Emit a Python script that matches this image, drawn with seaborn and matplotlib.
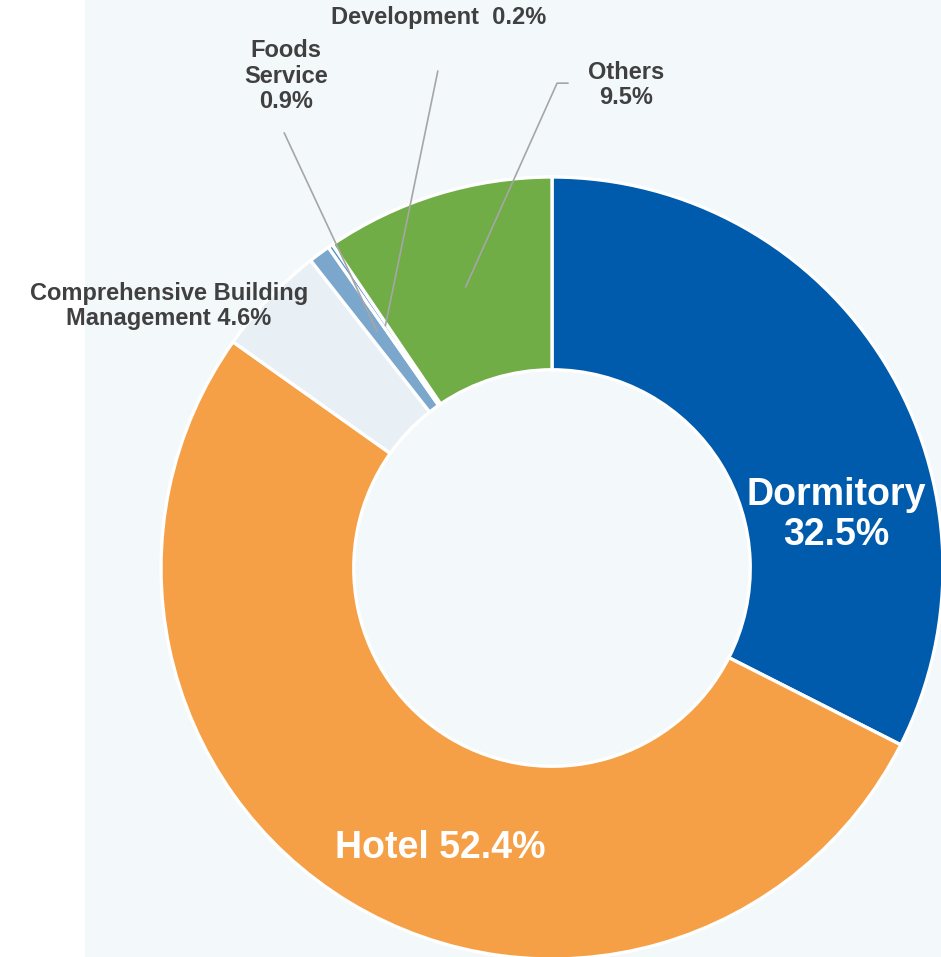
import numpy as np
import matplotlib
matplotlib.use("Agg")
import matplotlib.pyplot as plt
import seaborn as sns
from matplotlib.patches import Rectangle

# data
segments = ['Dormitory', 'Hotel', 'Comprehensive Building Management',
            'Foods Service', 'Development', 'Others']
shares = [32.5, 52.4, 4.6, 0.9, 0.2, 9.5]
seg_colors = ['#005BAC', '#F5A047', '#E8F0F6', '#7BA7CC', '#4F8FCF', '#70AD47']

label_texts = ['Dormitory\n32.5%', 'Hotel 52.4%', 'Comprehensive Building\nManagement 4.6%',
               'Foods\nService\n0.9%', 'Development  0.2%', 'Others\n9.5%']

sns.set_theme(style='white')
plt.rcParams['font.family'] = ['Liberation Sans', 'DejaVu Sans']

W, H = 941, 957
fig = plt.figure(figsize=(W / 100, H / 100), dpi=100)
fig.patch.set_facecolor('white')
fig.add_artist(Rectangle((85 / W, 0), 1 - 85 / W, 1, transform=fig.transFigure,
                         facecolor='#F3F8FB', edgecolor='none', zorder=0))

# donut: centre (552, 568) px, outer radius 391 px
cx, cy, R = 552, 568, 391
ax = fig.add_axes([(cx - R) / W, (H - cy - R) / H, 2 * R / W, 2 * R / H])
ax.set_facecolor('none')

wedges, _ = ax.pie(shares, colors=seg_colors, startangle=90, counterclock=False,
                   radius=1.0, wedgeprops=dict(width=0.493, edgecolor='white', linewidth=2.4))
ax.set_xlim(-1, 1)
ax.set_ylim(-1, 1)
ax.set_aspect('equal')
ax.axis('off')
for w in wedges:
    w.set_clip_on(False)

dark = '#404040'
# labels inside the ring
ax.text(0.726, 0.136, label_texts[0], color='white', fontsize=27, fontweight='bold',
        ha='center', va='center', linespacing=1.15)
ax.text(-0.286, -0.716, label_texts[1], color='white', fontsize=27, fontweight='bold',
        ha='center', va='center')

# outside labels
ax.text(-0.980, 0.670, label_texts[2], color=dark, fontsize=17, fontweight='bold',
        ha='center', va='center', linespacing=1.15, clip_on=False)
ax.text(-0.680, 1.258, label_texts[3], color=dark, fontsize=17, fontweight='bold',
        ha='center', va='center', linespacing=1.15, clip_on=False)
ax.text(-0.289, 1.407, label_texts[4], color=dark, fontsize=17, fontweight='bold',
        ha='center', va='center', clip_on=False)
ax.text(0.189, 1.235, label_texts[5], color=dark, fontsize=17, fontweight='bold',
        ha='center', va='center', linespacing=1.15, clip_on=False)


def mid_point(w, r=0.752):
    a = np.deg2rad((w.theta1 + w.theta2) / 2)
    return r * np.cos(a), r * np.sin(a)


line_kw = dict(color='#A6A6A6', linewidth=1.2, clip_on=False, zorder=5)
for idx, start in [(3, (-0.685, 1.113)), (4, (-0.292, 1.271))]:
    ex, ey = mid_point(wedges[idx])
    ax.plot([start[0], ex], [start[1], ey], **line_kw)
ex, ey = mid_point(wedges[5])
ax.plot([0.041, 0.013, ex], [1.240, 1.240, ey], **line_kw)

fig.savefig('out.png', dpi=100)
